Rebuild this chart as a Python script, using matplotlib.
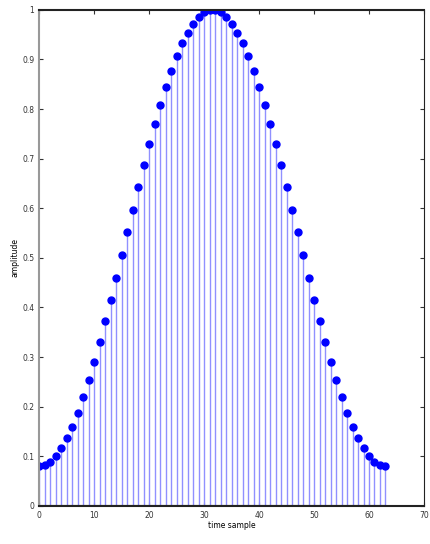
import numpy as np
import matplotlib
matplotlib.use('Agg')
import matplotlib.pyplot as plt

# sample index and amplitude (window of 64 samples)
n = list(range(64))
amp_half = [0.080, 0.082, 0.089, 0.100, 0.116, 0.136, 0.160, 0.188,
            0.219, 0.253, 0.290, 0.330, 0.372, 0.415, 0.460, 0.506,
            0.552, 0.597, 0.642, 0.687, 0.729, 0.770, 0.809, 0.844,
            0.877, 0.907, 0.933, 0.954, 0.972, 0.986, 0.995, 0.999]
amp = amp_half + amp_half[::-1]

xticks = [0, 10, 20, 30, 40, 50, 60, 70]
yticks = [0, 0.1, 0.2, 0.3, 0.4, 0.5, 0.6, 0.7, 0.8, 0.9, 1]
yticklabels = ['0', '0.1', '0.2', '0.3', '0.4', '0.5', '0.6', '0.7', '0.8', '0.9', '1']

fig = plt.figure(figsize=(4.3, 5.44), dpi=100)
ax = fig.add_axes([0.091, 0.070, 0.895, 0.912])

ml, sl, bl = ax.stem(n, amp, basefmt='k-')
plt.setp(sl, color='#9090ff', linewidth=1.0)
plt.setp(ml, color='#0000ff', marker='o', markersize=5)
plt.setp(bl, color='black', linewidth=1.5)

ax.set_xlim(0, 70)
ax.set_ylim(0, 1)
ax.set_xticks(xticks)
ax.set_xticklabels([str(t) for t in xticks])
ax.set_yticks(yticks)
ax.set_yticklabels(yticklabels)
ax.tick_params(direction='in', labelsize=5.5, length=3, top=True, right=True,
               colors='#333333')
ax.spines['left'].set_color('#999999')
ax.spines['left'].set_linewidth(1.5)
ax.spines['top'].set_color('#222222')
ax.spines['top'].set_linewidth(1.5)
ax.spines['bottom'].set_color('#222222')
ax.spines['bottom'].set_linewidth(1.5)
ax.spines['right'].set_color('#222222')

ax.set_xlabel('time sample', fontsize=5.5, labelpad=1)
ax.set_ylabel('amplitude', fontsize=5.5, labelpad=2)

fig.savefig('out.png', dpi=100)
